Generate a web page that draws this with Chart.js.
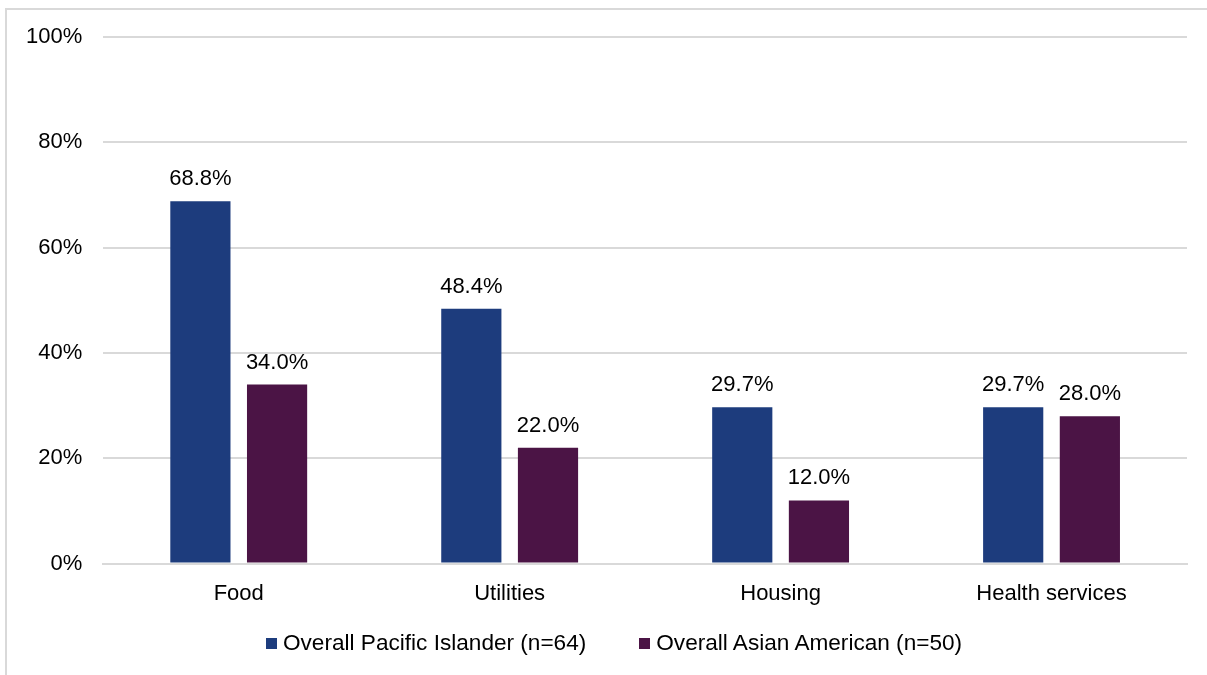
<!DOCTYPE html>
<html>
<head>
<meta charset="utf-8">
<script src="https://cdn.jsdelivr.net/npm/chart.js@4/dist/chart.umd.min.js"></script>
<style>
  html, body { margin: 0; padding: 0; background: #fff; }
  #wrap { position: relative; width: 1207px; height: 675px; overflow: hidden; }
  #frame { position: absolute; left: 5px; top: 8px; width: 1300px; height: 800px;
           border: 2px solid #d9d9d9; pointer-events: none; }
  canvas { position: absolute; left: 0; top: 0; }
  #legend { position: absolute; left: 266px; top: 630px; display: flex; align-items: center;
            font: 22.6px 'Liberation Sans', Arial, sans-serif; color: #000; white-space: nowrap; }
  #legend .item { display: flex; align-items: center; margin-right: 53px; }
  #legend .box { width: 11px; height: 11px; margin-right: 6px; }
</style>
</head>
<body>
<div id="wrap">
  <canvas id="chart" width="1207" height="675"></canvas>
  <div id="legend"></div>
  <div id="frame"></div>
</div>
<script>
const categories = ["Food", "Utilities", "Housing", "Health services"];
const pacificIslander = [68.8, 48.4, 29.7, 29.7];
const asianAmerican = [34.0, 22.0, 12.0, 28.0];
const seriesNames = ["Overall Pacific Islander (n=64)", "Overall Asian American (n=50)"];
const seriesColors = ["#1d3c7d", "#4b1445"];
const yTicks = [0, 20, 40, 60, 80, 100];

const fontFamily = "'Liberation Sans', Arial, sans-serif";

// draws the value labels above each bar
const valueLabels = {
    id: "valueLabels",
    afterDatasetsDraw(chart) {
        const ctx = chart.ctx;
        ctx.save();
        ctx.font = "22px " + fontFamily;
        ctx.fillStyle = "#000";
        ctx.textAlign = "center";
        ctx.textBaseline = "alphabetic";
        chart.data.datasets.forEach((ds, i) => {
            chart.getDatasetMeta(i).data.forEach((bar, j) => {
                ctx.fillText(ds.data[j].toFixed(1) + "%", bar.x, bar.y - 16);
            });
        });
        ctx.restore();
    }
};

const chart = new Chart(document.getElementById("chart"), {
    type: "bar",
    data: {
        labels: categories,
        datasets: [
            { label: seriesNames[0], data: pacificIslander, backgroundColor: seriesColors[0] },
            { label: seriesNames[1], data: asianAmerican, backgroundColor: seriesColors[1] }
        ]
    },
    options: {
        responsive: false,
        animation: false,
        categoryPercentage: 0.566,
        barPercentage: 0.785,
        layout: { padding: { left: 5, right: 20, top: 37, bottom: 59 } },
        scales: {
            x: {
                grid: { display: false },
                border: { color: "#d9d9d9", width: 2 },
                ticks: { color: "#000", font: { size: 22, family: fontFamily }, padding: 9 }
            },
            y: {
                min: 0,
                max: 100,
                afterBuildTicks(axis) { axis.ticks = yTicks.map(v => ({ value: v })); },
                grid: { color: "#d9d9d9", lineWidth: 2, drawTicks: false },
                border: { display: false },
                ticks: {
                    color: "#000",
                    font: { size: 22, family: fontFamily },
                    padding: 21,
                    callback: v => v + "%"
                }
            }
        },
        plugins: {
            legend: { display: false },
            tooltip: { enabled: false }
        }
    },
    plugins: [valueLabels]
});

// legend built from the chart's datasets
const legendEl = document.getElementById("legend");
chart.data.datasets.forEach(ds => {
    const item = document.createElement("div");
    item.className = "item";
    const box = document.createElement("span");
    box.className = "box";
    box.style.background = ds.backgroundColor;
    const label = document.createElement("span");
    label.textContent = ds.label;
    item.appendChild(box);
    item.appendChild(label);
    legendEl.appendChild(item);
});
</script>
</body>
</html>
